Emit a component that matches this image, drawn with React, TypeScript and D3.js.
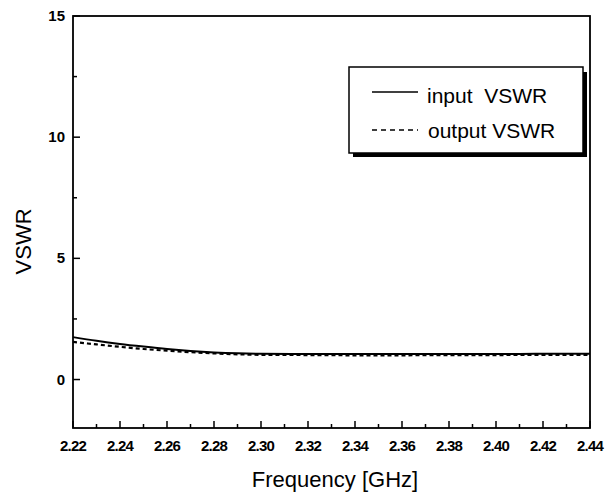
import React from "react";
import * as d3 from "d3";

const freq = [2.22, 2.23, 2.24, 2.25, 2.26, 2.27, 2.28, 2.29, 2.30, 2.32, 2.34, 2.36, 2.38, 2.40, 2.42, 2.44];
const inputVSWR = [1.75, 1.6, 1.47, 1.36, 1.26, 1.18, 1.12, 1.08, 1.06, 1.05, 1.05, 1.05, 1.05, 1.05, 1.06, 1.06];
const outputVSWR = [1.55, 1.45, 1.35, 1.26, 1.19, 1.13, 1.08, 1.04, 1.02, 1.01, 1.0, 1.0, 1.01, 1.01, 1.02, 1.02];
const xTicks = [2.22, 2.24, 2.26, 2.28, 2.3, 2.32, 2.34, 2.36, 2.38, 2.4, 2.42, 2.44];
const yTicks = [0, 5, 10, 15];
const legendLabels = ["input  VSWR", "output VSWR"];

export default function App() {
  const W = 606, H = 495;
  const L = 73, R = 590, T = 16, B = 428;
  const x = d3.scaleLinear().domain([2.22, 2.44]).range([L, R]);
  const y = d3.scaleLinear().domain([-2, 15]).range([B, T]);
  const line = (vals: number[]) =>
    d3.line<number>().x((_, i) => x(freq[i])).y((v) => y(v)).curve(d3.curveMonotoneX)(vals) || "";
  const minorX = d3.range(0, 23).map((i) => 2.22 + i * 0.01);
  const minorY = [2.5, 7.5, 12.5];
  const font = "'Liberation Sans', Arial, sans-serif";
  return (
    <svg width={W} height={H} style={{ position: "absolute", left: 0, top: 0, background: "#fff" }}>
      <rect x={0} y={0} width={W} height={H} fill="#fff" />
      <rect x={L} y={T} width={R - L} height={B - T} fill="none" stroke="#000" strokeWidth={1.8} />
      {minorX.map((v, i) => {
        const major = i % 2 === 0;
        return <line key={"mx" + i} x1={x(v)} x2={x(v)} y1={B} y2={B - (major ? 7 : 4)} stroke="#000" strokeWidth={1.5} />;
      })}
      {yTicks.map((v) => (
        <line key={"yt" + v} x1={L} x2={L + 7} y1={y(v)} y2={y(v)} stroke="#000" strokeWidth={1.5} />
      ))}
      {minorY.map((v) => (
        <line key={"ym" + v} x1={L} x2={L + 4} y1={y(v)} y2={y(v)} stroke="#000" strokeWidth={1.5} />
      ))}
      {xTicks.map((v) => (
        <text key={"xl" + v} x={x(v)} y={451} textAnchor="middle" fontFamily={font} fontWeight="bold" fontSize={15} letterSpacing={-0.8}>
          {v.toFixed(2)}
        </text>
      ))}
      {yTicks.map((v) => (
        <text key={"yl" + v} x={L - 8} y={y(v) + 5} textAnchor="end" fontFamily={font} fontWeight="bold" fontSize={15}>
          {v}
        </text>
      ))}
      <text x={335} y={487} textAnchor="middle" fontFamily={font} fontSize={22}>Frequency [GHz]</text>
      <text transform={`translate(31,${y(5.7)}) rotate(-90)`} textAnchor="middle" fontFamily={font} fontSize={22}>VSWR</text>
      <path d={line(inputVSWR)} fill="none" stroke="#000" strokeWidth={2} />
      <path d={line(outputVSWR)} fill="none" stroke="#000" strokeWidth={2.2} strokeDasharray="4,3" />
      <rect x={353} y={72} width={234} height={85} fill="#000" />
      <rect x={349} y={67} width={234} height={86} fill="#fff" stroke="#000" strokeWidth={1.5} />
      <line x1={372} x2={418} y1={92} y2={92} stroke="#000" strokeWidth={1.6} />
      <line x1={372} x2={418} y1={130} y2={130} stroke="#000" strokeWidth={1.6} strokeDasharray="5,4" />
      <text x={427} y={103} fontFamily={font} fontSize={21} xmlSpace="preserve">{legendLabels[0]}</text>
      <text x={428} y={138} fontFamily={font} fontSize={21} xmlSpace="preserve">{legendLabels[1]}</text>
    </svg>
  );
}
